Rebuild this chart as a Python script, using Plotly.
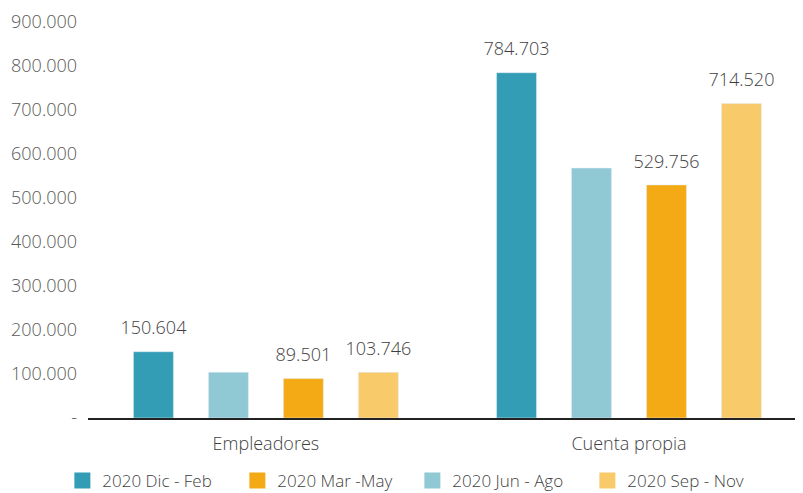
import plotly.graph_objects as go

categories = ["Empleadores", "Cuenta propia"]
series = ["2020 Dic - Feb", "2020 Jun - Ago", "2020 Mar -May", "2020 Sep - Nov"]
dic_feb = [150604, 784703]
jun_ago = [104000, 568000]
mar_may = [89501, 529756]
sep_nov = [103746, 714520]
values = [dic_feb, jun_ago, mar_may, sep_nov]
show_labels = [True, False, True, True]
legend_rank = [1, 3, 2, 4]
colors = ["#339DB5", "#90C8D4", "#F4AA14", "#F9CA6A"]
y_ticks = [0, 100000, 200000, 300000, 400000, 500000, 600000, 700000, 800000, 900000]
y_ticktext = ["-"] + [f"{v:,}".replace(",", ".") for v in y_ticks[1:]]

fnt = "Open Sans"
gap = 0.174
txt_col = "#3f3f3f"

fig = go.Figure()
for name, vals, col in zip(series, values, colors):
    fig.add_trace(go.Bar(x=categories, y=vals, name=name, marker_color=col,
                         showlegend=False, hoverinfo="skip"))

# value labels, grouped like the bars
for name, vals, show in zip(series, values, show_labels):
    txt = [f"{v:,}".replace(",", ".") if show else "" for v in vals]
    fig.add_trace(go.Scatter(x=categories, y=vals, mode="markers+text", text=txt,
                             textposition="top center", alignmentgroup="lbl", offsetgroup=name,
                             marker=dict(size=19, opacity=0), showlegend=False, hoverinfo="skip",
                             cliponaxis=False,
                             textfont=dict(family=fnt, size=18, color=txt_col, weight=300)))

# legend entries with bigger squares
for name, col, rank in zip(series, colors, legend_rank):
    fig.add_trace(go.Scatter(x=[None], y=[None], mode="markers", name=name, legendrank=rank,
                             alignmentgroup="leg",
                             marker=dict(symbol="square", size=20, color=col)))

# page body has an 8px margin, so the figure is 8px smaller than the window
fig.update_layout(
    width=795, height=485,
    margin=dict(l=80, r=3, t=14, b=75, autoexpand=False),
    barmode="group", bargap=gap, bargroupgap=0.467,
    scattermode="group", scattergap=gap,
    separators=",.",
    plot_bgcolor="white", paper_bgcolor="white",
    font=dict(family=fnt, size=18, color=txt_col, weight=300),
    legend=dict(orientation="h", x=-0.036, xanchor="left", y=-0.159, yanchor="middle",
                entrywidth=130, itemsizing="trace",
                font=dict(family=fnt, size=17, color=txt_col, weight=300)),
)
fig.update_xaxes(range=[-0.49, 1.471], showline=True, linecolor="#222222", linewidth=1.5,
                 ticks="", ticklabelstandoff=9, automargin=False,
                 tickfont=dict(color=txt_col, size=18, weight=300))
fig.update_yaxes(range=[0, 900000], tickvals=y_ticks, ticktext=y_ticktext, showgrid=False,
                 zeroline=False, ticks="", ticklabelstandoff=10, automargin=False,
                 tickfont=dict(color="#595959", size=18, weight=300))

fig.write_html("out.html")
